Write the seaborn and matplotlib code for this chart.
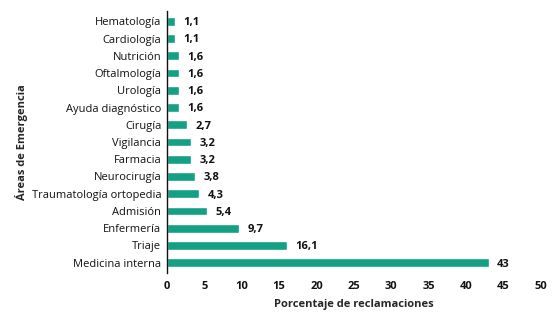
import matplotlib
matplotlib.use("Agg")
import matplotlib.pyplot as plt
import seaborn as sns
import pandas as pd

areas = ["Hematología", "Cardiología", "Nutrición", "Oftalmología", "Urología",
         "Ayuda diagnóstico", "Cirugía", "Vigilancia", "Farmacia", "Neurocirugía",
         "Traumatología ortopedia", "Admisión", "Enfermería", "Triaje", "Medicina interna"]
porcentajes = [1.1, 1.1, 1.6, 1.6, 1.6, 1.6, 2.7, 3.2, 3.2, 3.8, 4.3, 5.4, 9.7, 16.1, 43]
etiquetas = ["1,1", "1,1", "1,6", "1,6", "1,6", "1,6", "2,7", "3,2", "3,2", "3,8",
             "4,3", "5,4", "9,7", "16,1", "43"]
xticks = [0, 5, 10, 15, 20, 25, 30, 35, 40, 45, 50]

df = pd.DataFrame({"area": areas, "pct": porcentajes})

sns.set_style("white")
plt.rcParams["font.family"] = ["Open Sans", "DejaVu Sans"]
plt.rcParams["text.color"] = "#111111"

fig = plt.figure(figsize=(5.6, 3.22), dpi=100)
ax = fig.add_axes([0.298, 0.152, 0.668, 0.814])
sns.barplot(data=df, y="area", x="pct", color="#14a085", width=0.5,
            saturation=1, ax=ax)

for i, (v, t) in enumerate(zip(porcentajes, etiquetas)):
    ax.annotate(t, (v, i), xytext=(6, -1), textcoords="offset points",
                ha="left", va="center", fontsize=8, fontweight="bold", color="#111111")

ax.set_xlim(0, 50)
ax.set_ylim(14.6, -0.6)
ax.set_xticks(xticks)
ax.set_xticklabels([str(x) for x in xticks], fontsize=8, fontweight="bold")
ax.tick_params(axis="both", colors="#111111")
ax.tick_params(axis="y", labelsize=8, length=0, pad=4)
ax.tick_params(axis="x", length=0, pad=6)
ax.set_xlabel("Porcentaje de reclamaciones", fontsize=8, fontweight="bold", labelpad=5)
ax.set_ylabel("Áreas de Emergencia", fontsize=8, fontweight="bold", labelpad=3)
for s in ["top", "right", "bottom"]:
    ax.spines[s].set_visible(False)
ax.spines["left"].set_color("#111111")
ax.spines["left"].set_linewidth(1)

fig.savefig("out.png", dpi=100)
